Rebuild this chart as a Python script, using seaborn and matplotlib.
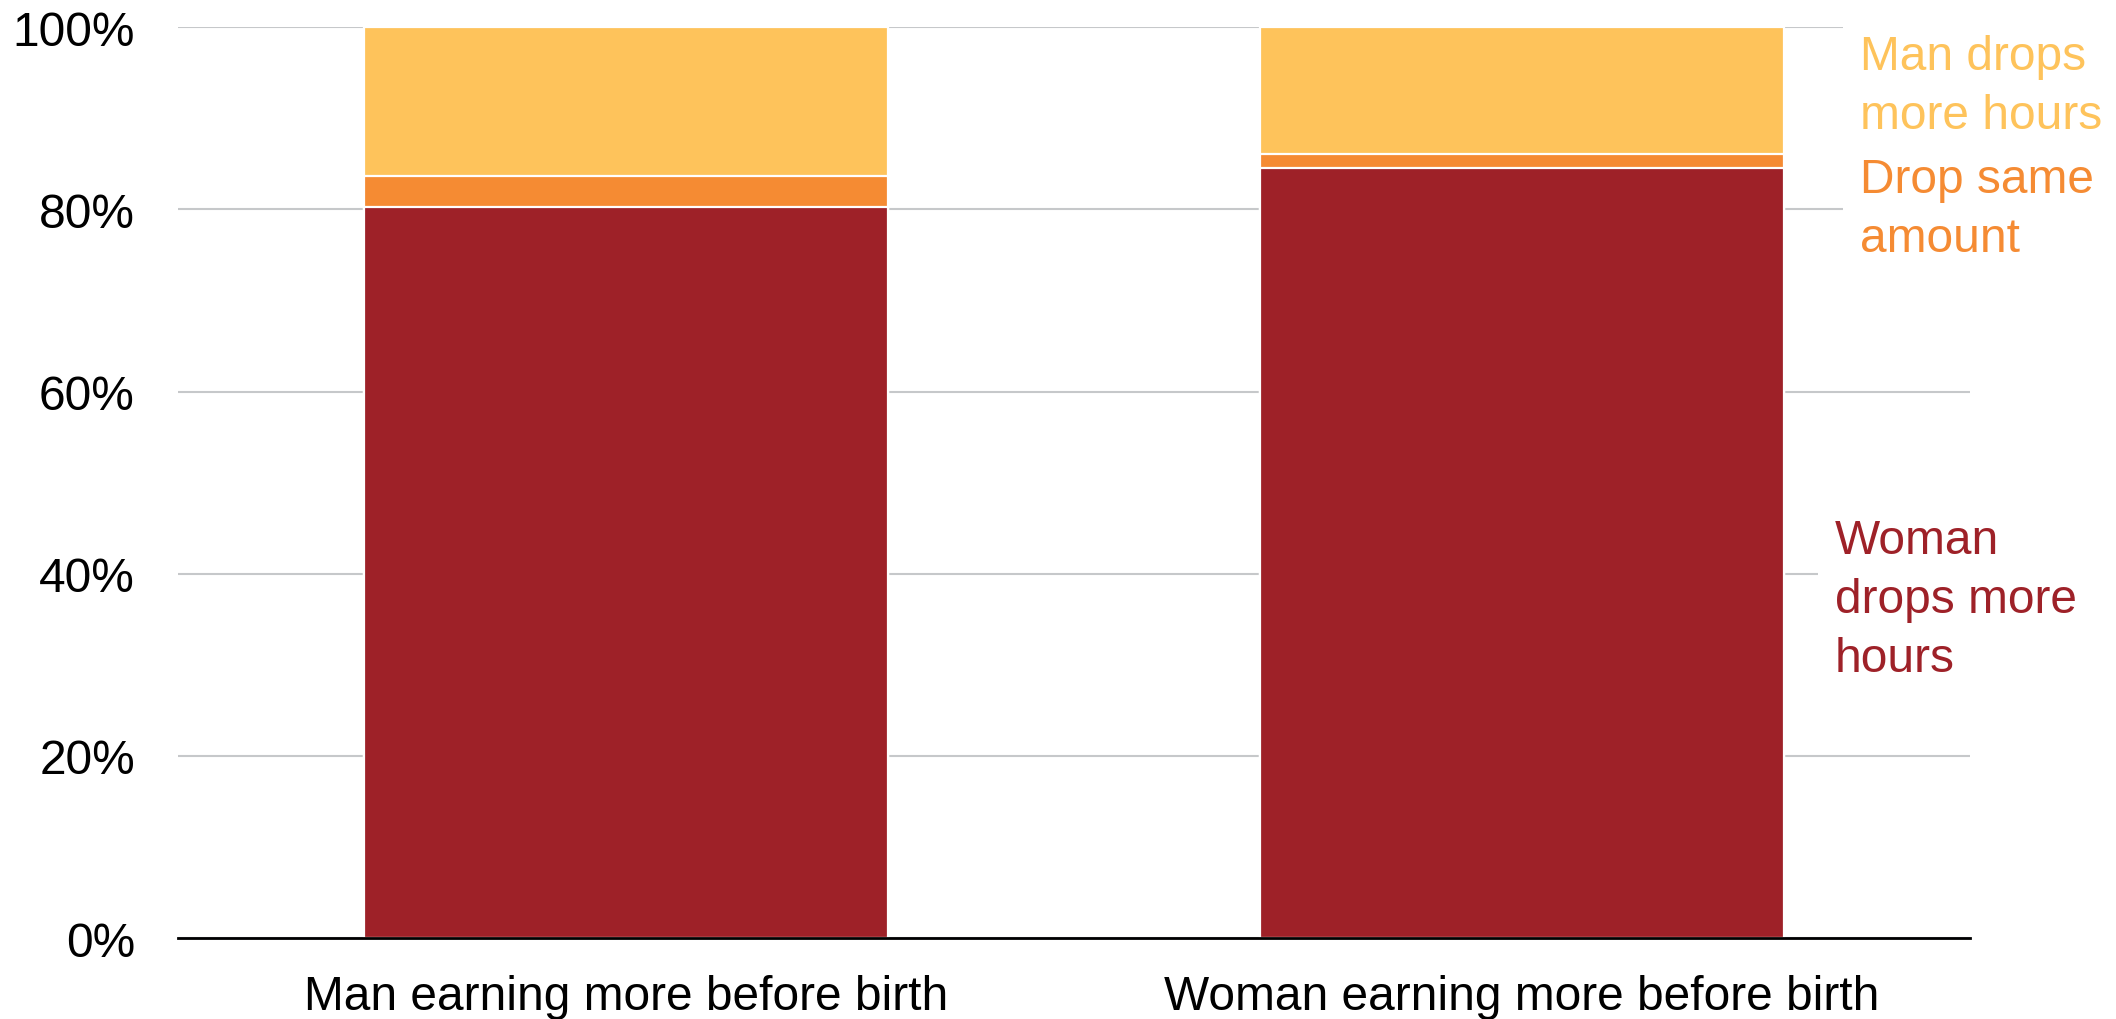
import matplotlib
matplotlib.use("Agg")
import matplotlib.pyplot as plt
import seaborn as sns
import pandas as pd
from matplotlib.ticker import FuncFormatter

# Share of couples by who cuts more working hours after the first birth (%)
categories = ["Man earning more before birth", "Woman earning more before birth"]
woman_drops_more = [80.3, 84.5]
drop_same = [3.4, 1.6]
man_drops_more = [16.3, 13.9]

series_labels = ["Man drops\nmore hours", "Drop same\namount", "Woman\ndrops more\nhours"]
colors = {"man": "#FEC35B", "same": "#F58B33", "woman": "#9E2128"}

sns.set_theme(style="white")
plt.rcParams["font.family"] = ["Liberation Sans", "DejaVu Sans"]

df = pd.DataFrame({
    "category": categories,
    "woman": woman_drops_more,
    "same": drop_same,
    "man": man_drops_more,
})
df["top_woman"] = df["woman"]
df["top_same"] = df["woman"] + df["same"]
df["top_man"] = df["top_same"] + df["man"]

fig = plt.figure(figsize=(21.16, 10.2), dpi=100)
ax = fig.add_axes([0.0841, 0.0794, 0.931 - 0.0841, 0.9723 - 0.0794])

# Stacked bars: draw cumulative totals from the top segment down
for col, key in [("top_man", "man"), ("top_same", "same"), ("top_woman", "woman")]:
    sns.barplot(data=df, x="category", y=col, color=colors[key], width=0.585,
                edgecolor="white", linewidth=1.6, saturation=1, ax=ax, zorder=2)

ax.set_xlim(-0.5, 1.5)
ax.set_ylim(0, 100)
ax.set_yticks([0, 20, 40, 60, 80, 100])
ax.yaxis.set_major_formatter(FuncFormatter(lambda v, _: f"{v:.0f}%"))
ax.grid(axis="y", color="#C6C8CA", linewidth=1.5, zorder=0)
ax.grid(axis="x", visible=False)
ax.set_axisbelow(True)
ax.set_xlabel("")
ax.set_ylabel("")
for side in ["left", "right", "top"]:
    ax.spines[side].set_visible(False)
ax.spines["bottom"].set_color("black")
ax.spines["bottom"].set_linewidth(2)
ax.spines["bottom"].set_zorder(3)
ax.tick_params(axis="y", length=0, pad=31, labelsize=34.5, labelcolor="black")
ax.tick_params(axis="x", length=0, pad=26, labelsize=34.5, labelcolor="black")

# Direct labels for each segment, on white boxes that break the gridlines
box = dict(facecolor="white", edgecolor="none", pad=12)
label_kw = dict(transform=fig.transFigure, fontsize=34.5, linespacing=1.4,
                ha="left", va="top", bbox=box, zorder=4)
fig.text(1860 / 2116, 1 - 35 / 1020, series_labels[0], color=colors["man"], **label_kw)
fig.text(1860 / 2116, 1 - 158 / 1020, series_labels[1], color=colors["same"], **label_kw)
fig.text(1835 / 2116, 1 - 519 / 1020, series_labels[2], color=colors["woman"], **label_kw)

fig.savefig("out.png", dpi=100, facecolor="white")
